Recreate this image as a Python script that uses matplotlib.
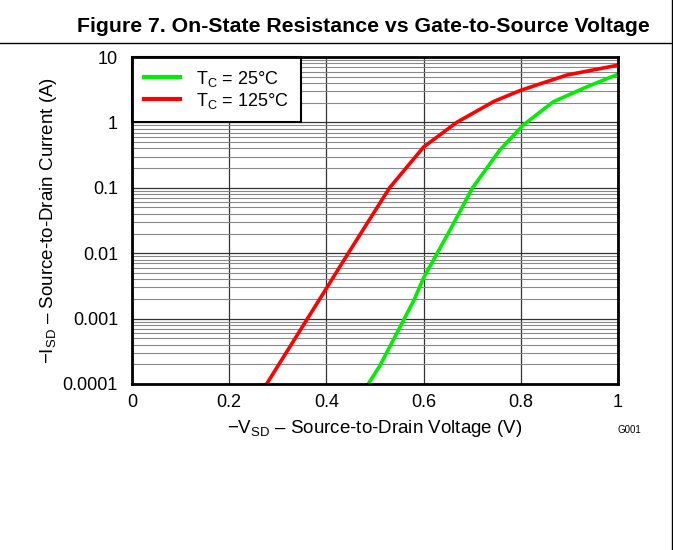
import matplotlib
matplotlib.use("Agg")
import matplotlib.pyplot as plt
from matplotlib.lines import Line2D
from matplotlib.ticker import FixedLocator, NullFormatter

plt.rcParams["font.family"] = ["Liberation Sans", "DejaVu Sans"]
plt.rcParams["mathtext.fontset"] = "custom"
plt.rcParams["mathtext.rm"] = "Liberation Sans"
plt.rcParams["mathtext.it"] = "Liberation Sans:italic"

# source-to-drain voltage (V) vs current (A)
green_v = [0.486, 0.51, 0.58, 0.60, 0.655, 0.70, 0.757, 0.805, 0.867, 0.936, 1.0]
green_i = [1e-4, 1.9e-4, 1.9e-3, 4.2e-3, 0.023, 0.098, 0.38, 0.91, 2.07, 3.5, 5.45]
red_v = [0.277, 0.40, 0.445, 0.53, 0.60, 0.668, 0.745, 0.80, 0.895, 1.0]
red_i = [1e-4, 2.9e-3, 1.0e-2, 0.1, 0.42, 1.0, 2.1, 3.1, 5.3, 7.5]
labels = ["T$_\\mathrm{C}$ = 25°C", "T$_\\mathrm{C}$ = 125°C"]
colors = ["#00ee00", "#ff0000"]
x_ticks = [0, 0.2, 0.4, 0.6, 0.8, 1]
x_ticklabels = ["0", "0.2", "0.4", "0.6", "0.8", "1"]
y_ticks = [1e-4, 1e-3, 1e-2, 1e-1, 1, 10]
y_ticklabels = ["0.0001", "0.001", "0.01", "0.1", "1", "10"]

fig = plt.figure(figsize=(6.73, 5.5), dpi=100)
ax = fig.add_axes([132 / 673, 1 - 384 / 550, 486 / 673, 327 / 550])

ax.plot(green_v, green_i, color=colors[0], lw=2.6, label=labels[0], zorder=3)
ax.plot(red_v, red_i, color=colors[1], lw=2.6, label=labels[1], zorder=3)

ax.set_yscale("log")
ax.set_xlim(0, 1)
ax.set_ylim(1e-4, 10)
ax.set_xticks(x_ticks)
ax.set_xticklabels(x_ticklabels)
ax.set_yticks(y_ticks)
ax.set_yticklabels(y_ticklabels)
minors = [m * 10.0 ** e for e in range(-4, 1) for m in range(2, 10)]
ax.yaxis.set_minor_locator(FixedLocator(minors))
ax.yaxis.set_minor_formatter(NullFormatter())
ax.tick_params(which="both", length=0, labelsize=13)
ax.tick_params(axis="x", pad=7)
ax.tick_params(axis="y", pad=10)

# grid
ax.grid(True, which="major", axis="both", color="#333333", lw=0.9)
ax.grid(True, which="minor", axis="y", color="#888888", lw=0.8)
ax.set_axisbelow(True)
for s in ax.spines.values():
    s.set_linewidth(2.0)
    s.set_zorder(5)

ax.set_xlabel("\u2212V$_\\mathrm{SD}$ \u2013 Source-to-Drain Voltage (V)", fontsize=13.5, labelpad=5)
ax.set_ylabel("\u2212I$_\\mathrm{SD}$ \u2013 Source-to-Drain Current (A)", fontsize=13.5, labelpad=3)

handles = [Line2D([], [], color=c, lw=3) for c in colors]
leg = ax.legend(handles, labels, loc="upper left", fontsize=13, borderaxespad=0,
                fancybox=False, framealpha=1, edgecolor="black", handlelength=2.0,
                borderpad=0.65, labelspacing=0.1, handletextpad=0.9)
leg.get_frame().set_linewidth(1.5)
leg.set_zorder(4)

fig.text(641 / 673, 1 - 430 / 550, "G001", fontsize=7, ha="right", va="center")

# title block and frame
fig.text(650 / 673, 1 - 27 / 550, "Figure 7. On-State Resistance vs Gate-to-Source Voltage",
         fontsize=15.3, fontweight="bold", ha="right", va="center")
fig.add_artist(Line2D([0, 1], [1 - 43 / 550, 1 - 43 / 550], color="black", lw=1.0))
fig.add_artist(Line2D([671.5 / 673, 671.5 / 673], [0, 1], color="black", lw=1.0))

fig.savefig("out.png", dpi=100)
